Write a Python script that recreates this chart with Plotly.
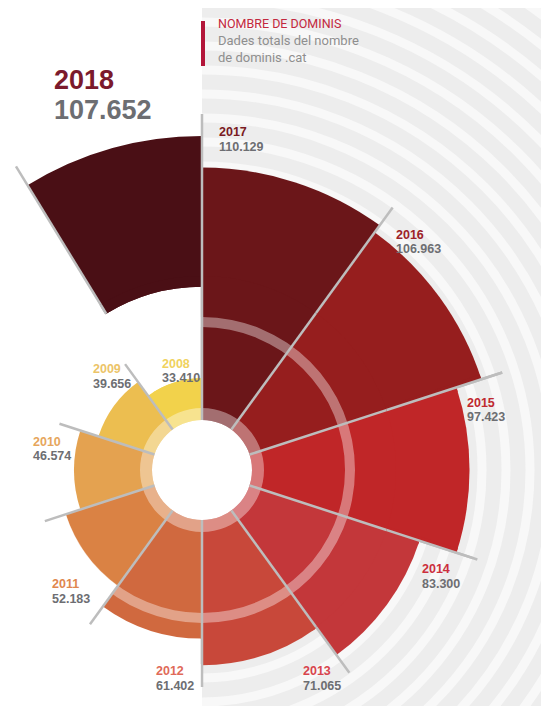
import math
import plotly.graph_objects as go

# ---------------- data ----------------
years = [2008, 2009, 2010, 2011, 2012, 2013, 2014, 2015, 2016, 2017]
domain_counts = [33.410, 39.656, 46.574, 52.183, 61.402, 71.065, 83.300, 97.423, 106.963, 110.129]  # thousands
year_labels = ["2008", "2009", "2010", "2011", "2012", "2013", "2014", "2015", "2016", "2017"]
count_labels = ["33.410", "39.656", "46.574", "52.183", "61.402", "71.065", "83.300", "97.423", "106.963", "110.129"]
current_year_label = "2018"
current_count = 107.652
current_count_label = "107.652"
title_text = "NOMBRE DE DOMINIS"
subtitle_lines = ["Dades totals del nombre", "de dominis .cat"]

# ---------------- style ----------------
W, H = 549, 698
OFF = 8                      # page body margin offset
CX, CY = 202 - OFF, 470 - OFF  # centre of the rose (figure px)
K = 2.746                    # px per thousand domains
SECT = 36.0                  # degrees per year
HOLE_PX = 50
BAND_IN = (50, 62)           # light inner ring (px)
BAND_MID = (143, 153)        # light middle ring (px)
EXPLODE = 14.0               # 2018 slice pushed outward (units)
CUT = 0.62                   # 2018 slice inner cut (fraction of value)
W18 = 31.5                   # angular width of the 2018 slice
LINE_EXT = 8.0               # divider lines overshoot (units)
LINE_COLOR = "#bdbdbd"

bar_colors = ["#f2d24b", "#ecbe50", "#e4a250", "#da8244", "#d0693f",
              "#c8483a", "#c3373a", "#c02628", "#961e1e", "#6b1619"]
color_2018 = "#4a0f15"
label_colors = ["#f0d25e", "#ecc468", "#e6a65c", "#e0874e", "#e06a58",
                "#d8444c", "#cc2f3c", "#c0282f", "#9e2228", "#7a1a22"]
value_color = "#6d6e72"
# (left x, cap-top y of year, cap-top y of value) in reference px
label_pos = [(162, 360, 374), (93, 365, 380), (33, 438, 452), (52, 580, 595), (156, 667, 682),
             (303, 667, 682), (422, 565, 580), (467, 399, 413), (396, 231, 245), (219, 128, 143)]

LAB_FONT = "Liberation Sans, Arial, sans-serif"

# ---------------- helpers ----------------
def sector_bbox(s0, s1):
    arc = s1 - s0
    a0 = s0 % 360
    a1 = a0 + arc
    c = lambda a: math.cos(math.radians(a))
    s = lambda a: math.sin(math.radians(a))
    ax0, ay0, ax1, ay1 = c(a0), s(a0), c(a1), s(a1)
    if (a0 <= 90 and a1 >= 90) or (a0 > 90 and a1 >= 450):
        y1 = 1
    elif ay0 <= 0 and ay1 <= 0:
        y1 = 0
    else:
        y1 = max(ay0, ay1)
    if (a0 <= 180 and a1 >= 180) or (a0 > 180 and a1 >= 540):
        x0 = -1
    elif ax0 >= 0 and ax1 >= 0:
        x0 = 0
    else:
        x0 = min(ax0, ax1)
    if (a0 <= 270 and a1 >= 270) or (a0 > 270 and a1 >= 630):
        y0 = -1
    elif ay0 >= 0 and ay1 >= 0:
        y0 = 0
    else:
        y0 = min(ay0, ay1)
    if a1 >= 360:
        x1 = 1
    elif ax0 <= 0 and ax1 <= 0:
        x1 = 0
    else:
        x1 = max(ax0, ax1)
    return x0, y0, x1, y1


def clamp01(v):
    return min(1.0, max(0.0, round(v, 6)))


def polar_layout(R, compass=None):
    if compass is None:
        bb = (-1, -1, 1, 1)
        sector = [0, 360]
    else:
        c0, c1 = compass
        sector = [90 - c1, 90 - c0]
        bb = sector_bbox(*sector)
    x0, y0, x1, y1 = bb
    dom_x = [clamp01((CX + R * x0) / W), clamp01((CX + R * x1) / W)]
    dom_y = [clamp01(1 - (CY - R * y0) / H), clamp01(1 - (CY - R * y1) / H)]
    return dict(
        domain=dict(x=dom_x, y=dom_y), sector=sector, hole=0,
        bgcolor="rgba(0,0,0,0)", barmode="overlay", bargap=0,
        radialaxis=dict(visible=False, range=[0, R / K], showgrid=False,
                        showline=False, showticklabels=False, ticks=""),
        angularaxis=dict(visible=False, rotation=90, direction="clockwise",
                         showgrid=False, showline=False, showticklabels=False, ticks=""),
    )


# ---------------- geometry derived from data ----------------
n = len(years)
theta = [(years[-1] - y) * SECT + SECT / 2 for y in years]
outer18 = current_count + EXPLODE
base18 = CUT * current_count
theta18 = 360 - W18 / 2
hole_v = HOLE_PX / K


def neighbour_max(a):
    vals = [domain_counts[i] for i in range(n)
            if abs(((theta[i] - a + 180) % 360) - 180) < SECT * 0.6]
    if a % 360 == 0:
        vals.append(outer18)
    return max(vals)


line_r, line_t = [], []
for j in range(n):
    a = j * SECT
    line_r += [hole_v, neighbour_max(a) + LINE_EXT, None]
    line_t += [a, a, None]
line_r += [base18, outer18 + LINE_EXT, None]
line_t += [360 - W18, 360 - W18, None]

# ---------------- subplots (sector tiles sharing one centre and scale) ----------------
subplots = [
    ("polar", 362, (328, 433)),
    ("polar2", 350, (71, 109)),
    ("polar3", 285, (107, 145.5)),
    ("polar4", 236, (144.5, 180.5)),
    ("polar5", 194, None),
]

fig = go.Figure()
layout_polars = {}
for sid, R, comp in subplots:
    layout_polars[sid] = polar_layout(R, comp)
    fig.add_trace(go.Barpolar(
        r=domain_counts, theta=theta, width=SECT, subplot=sid,
        marker=dict(color=bar_colors, line=dict(width=0)),
        hoverinfo="skip", showlegend=False))
    fig.add_trace(go.Barpolar(
        r=[outer18 - base18], base=[base18], theta=[theta18], width=[W18], subplot=sid,
        marker=dict(color=color_2018, line=dict(width=0)),
        hoverinfo="skip", showlegend=False))
    if comp is None:
        fig.add_trace(go.Barpolar(
            r=[hole_v], base=[0], theta=[0], width=[360], subplot=sid,
            marker=dict(color="white", line=dict(width=0)),
            hoverinfo="skip", showlegend=False))
        fig.add_trace(go.Barpolar(
            r=[(BAND_IN[1] - BAND_IN[0]) / K, (BAND_MID[1] - BAND_MID[0]) / K],
            base=[BAND_IN[0] / K, BAND_MID[0] / K], theta=[0, 0], width=[360, 360],
            subplot=sid, marker=dict(color="rgba(255,255,255,0.38)", line=dict(width=0)),
            hoverinfo="skip", showlegend=False))
    fig.add_trace(go.Scatterpolar(
        r=line_r, theta=line_t, mode="lines", subplot=sid,
        line=dict(color=LINE_COLOR, width=2.5),
        hoverinfo="skip", showlegend=False))

# ---------------- background shapes ----------------
def px(x, y):
    return (x - OFF) / W, 1 - (y - OFF) / H

shapes = [dict(type="rect", xref="paper", yref="paper", x0=CX / W, x1=1.05, y0=-0.05, y1=1.05,
               fillcolor="#ededed", line=dict(width=0), layer="below")]
r = 40
while r < 800:
    shapes.append(dict(type="circle", xref="paper", yref="paper",
                       x0=(CX - r) / W, x1=(CX + r) / W,
                       y0=1 - (CY + r) / H, y1=1 - (CY - r) / H,
                       line=dict(color="#f8f8f8", width=9), layer="below"))
    r += 24
shapes.append(dict(type="rect", xref="paper", yref="paper", x0=-0.05, x1=CX / W, y0=-0.05, y1=1.05,
                   fillcolor="white", line=dict(width=0), layer="below"))
bx0, by0 = px(201, 66)
bx1, by1 = px(205, 21)
shapes.append(dict(type="rect", xref="paper", yref="paper", x0=bx0, x1=bx1, y0=by0, y1=by1,
                   fillcolor="#b3163a", line=dict(width=0), layer="above"))

# ---------------- annotations ----------------
def ann(x, y, text, size, color, family):
    ax, ay = px(x, y)
    return dict(xref="paper", yref="paper", x=ax, y=ay, xanchor="left",
                yanchor="top", text=text, showarrow=False,
                font=dict(size=size, color=color, family=family))

annotations = []
for i in range(n):
    x, yy, yv = label_pos[i]
    annotations.append(ann(x - 2, yy - 5, "<b>" + year_labels[i] + "</b>", 12.5, label_colors[i], LAB_FONT))
    annotations.append(ann(x - 2, yv - 5, "<b>" + count_labels[i] + "</b>", 12.5, value_color, LAB_FONT))

annotations.append(ann(52, 63, "<b>" + current_year_label + "</b>", 27, "#7b1a2c", LAB_FONT))
annotations.append(ann(52, 93, "<b>" + current_count_label + "</b>", 27, value_color, LAB_FONT))
annotations.append(ann(216, 14, title_text, 12.5, "#c3283e", "Roboto, sans-serif"))
annotations.append(ann(216, 31, subtitle_lines[0], 13, "#8f8f8f", "Roboto, sans-serif"))
annotations.append(ann(216, 48, subtitle_lines[1], 13, "#8f8f8f", "Roboto, sans-serif"))

fig.update_layout(
    width=W, height=H, margin=dict(l=0, r=0, t=0, b=0),
    paper_bgcolor="white", plot_bgcolor="white",
    showlegend=False, shapes=shapes, annotations=annotations,
    **layout_polars,
)

fig.write_html("out.html")
